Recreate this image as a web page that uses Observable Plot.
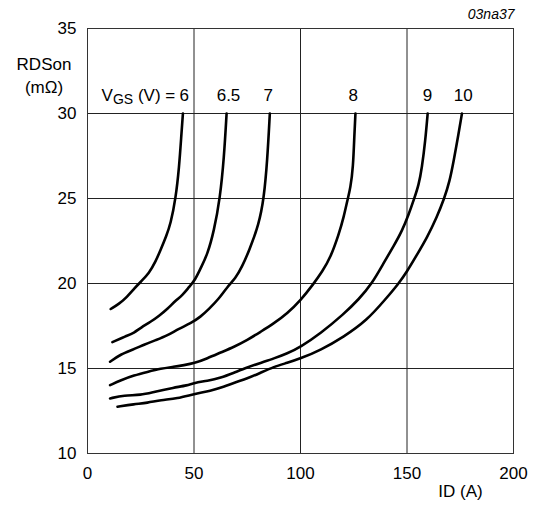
<!DOCTYPE html>
<html>
<head>
<meta charset="utf-8">
<script src="https://cdn.jsdelivr.net/npm/d3@7"></script>
<script src="https://cdn.jsdelivr.net/npm/@observablehq/plot@0.6"></script>
<style>
  html, body { margin: 0; padding: 0; background: white; }
</style>
</head>
<body>
<div id="chart"></div>
<script>
// ID (A) and RDSon (mΩ), one pair of arrays per VGS curve
const id6 = [10.9, 14.8, 18.5, 21.9, 25, 28.9, 32, 34.4, 37, 39, 41.4, 43, 44.1, 44.8];
const r6  = [18.5, 18.8, 19.2, 19.7, 20.1, 20.6, 21.3, 22.0, 22.8, 23.5, 25, 26.8, 28.8, 30];

const id65 = [11.7, 18, 21.9, 25, 29.7, 33.6, 37.5, 41.4, 44.5, 47.7, 50.5, 53.1, 56.3, 59.4, 62.2, 64.1, 65.3];
const r65  = [16.55, 16.9, 17.1, 17.4, 17.75, 18.1, 18.5, 19.0, 19.3, 19.8, 20.2, 20.9, 21.7, 23.1, 25, 27.4, 30];

const id7 = [10.6, 15.6, 21.1, 26.6, 32, 37.5, 43, 48.4, 53.1, 57, 61.7, 65.6, 69.5, 72.6, 75.8, 80.5, 82.8, 84.4, 85.6];
const r7  = [15.4, 15.84, 16.1, 16.4, 16.67, 16.94, 17.35, 17.65, 18.04, 18.5, 19.1, 19.8, 20.3, 21.0, 21.9, 23.5, 25, 27.2, 30];

const id8 = [10.6, 15.6, 21.9, 28.1, 34.4, 40.6, 45.3, 50, 56.3, 62.5, 68.75, 75, 81.25, 87.5, 93.75, 100, 106.25, 110.2, 114, 118, 120.3, 122.2, 123.4, 124.7, 125.3, 125.8];
const r8  = [14.02, 14.31, 14.6, 14.8, 15.0, 15.1, 15.2, 15.3, 15.6, 15.94, 16.27, 16.67, 17.16, 17.65, 18.24, 19.0, 20.0, 20.7, 21.5, 22.9, 23.9, 25, 25.6, 26.8, 28.8, 30];

const id9 = [10.6, 17.2, 25, 31.25, 40.6, 46.9, 50, 56.3, 62.5, 68.75, 75, 81.25, 87.5, 93.75, 100, 109.4, 120.3, 127.3, 133.6, 139, 143.75, 147.7, 150.8, 153.4, 155.5, 157, 158.6, 159.7];
const r9  = [13.24, 13.43, 13.43, 13.63, 13.88, 14.0, 14.16, 14.27, 14.45, 14.75, 15.06, 15.33, 15.59, 15.88, 16.27, 17.06, 18.2, 19.06, 20.0, 21.2, 22.2, 23.1, 24.06, 25, 25.8, 26.8, 28.4, 30];

const id10 = [14.1, 21.9, 28.1, 34.4, 42.2, 50, 57.8, 64.1, 68.75, 75, 81.25, 87.5, 93.75, 100, 109.4, 120.3, 131.25, 139.8, 146.1, 150, 154.7, 159.4, 164, 167.5, 170, 171.9, 174.2, 175.8];
const r10  = [12.75, 12.9, 12.98, 13.14, 13.24, 13.5, 13.69, 13.92, 14.16, 14.41, 14.75, 15.1, 15.33, 15.59, 16.08, 16.86, 17.84, 19.06, 20.0, 20.7, 21.7, 22.7, 23.9, 25, 26.0, 27.2, 28.8, 30];

const vgsLabels = ["6", "6.5", "7", "8", "9", "10"];
const labelId = [45.4, 66.2, 84.9, 124.8, 159.6, 176.4];
const labelR = 30.75;

const xTicks = [0, 50, 100, 150, 200];
const yTicks = [10, 15, 20, 25, 30, 35];
const xGrid = [50, 100, 150];
const yGrid = [15, 20, 25, 30];

const series = [[id6, r6], [id65, r65], [id7, r7], [id8, r8], [id9, r9], [id10, r10]];
const rows = series.flatMap(([xs, ys], i) => xs.map((x, j) => ({vgs: vgsLabels[i], id: x, r: ys[j]})));
const labels = vgsLabels.map((t, i) => ({t, id: labelId[i], r: labelR}));

const font = "'Liberation Sans', Arial, Helvetica, sans-serif";

const svg = Plot.plot({
  width: 535,
  height: 505,
  marginLeft: 87,
  marginRight: 22,
  marginTop: 28,
  marginBottom: 52,
  style: {fontSize: "17px", fontFamily: font, background: "white", color: "black"},
  x: {domain: [0, 200], ticks: xTicks, tickSize: 0, tickPadding: 13, label: null},
  y: {domain: [10, 35], ticks: yTicks, tickSize: 0, tickPadding: 11, label: null},
  marks: [
    Plot.ruleX(xGrid, {stroke: "#222", strokeWidth: 1}),
    Plot.ruleY(yGrid, {stroke: "#222", strokeWidth: 1}),
    Plot.frame({stroke: "#333", strokeWidth: 1}),
    Plot.line(rows, {x: "id", y: "r", z: "vgs", curve: "basis", stroke: "black", strokeWidth: 2.6}),
    Plot.text(labels, {x: "id", y: "r", text: "t", textAnchor: "middle", lineAnchor: "bottom", fontSize: 17, fill: "black"}),
    Plot.text(["VGS (V) ="], {x: () => labelId[0], y: () => labelR, text: d => d, textAnchor: "end", lineAnchor: "bottom", dx: -9, fontSize: 17, fill: "black"}),
    Plot.text(["RDSon\n(mΩ)"], {frameAnchor: "top-left", text: d => d, textAnchor: "middle", lineAnchor: "top", dx: -43.5, dy: 24, lineHeight: 1.41, fontSize: 17, fill: "black"}),
    Plot.text(["ID (A)"], {frameAnchor: "bottom-right", text: d => d, textAnchor: "middle", lineAnchor: "bottom", dx: -53, dy: 43.5, fontSize: 17, fill: "black"}),
    Plot.text(["03na37"], {frameAnchor: "top-right", text: d => d, textAnchor: "end", lineAnchor: "bottom", dx: 1, dy: -10, fontSize: 14, fontStyle: "italic", fill: "black"})
  ]
});

// subscript "GS" in the VGS label
d3.select(svg).selectAll("text").filter(function () { return this.textContent === "VGS (V) ="; })
  .each(function () {
    const t = d3.select(this);
    t.text(null);
    t.append("tspan").text("V");
    t.append("tspan").attr("font-size", 14).attr("dy", 3).text("GS");
    t.append("tspan").attr("dy", -3).text("\u00a0(V) =");
  });

document.getElementById("chart").appendChild(svg);
</script>
</body>
</html>
